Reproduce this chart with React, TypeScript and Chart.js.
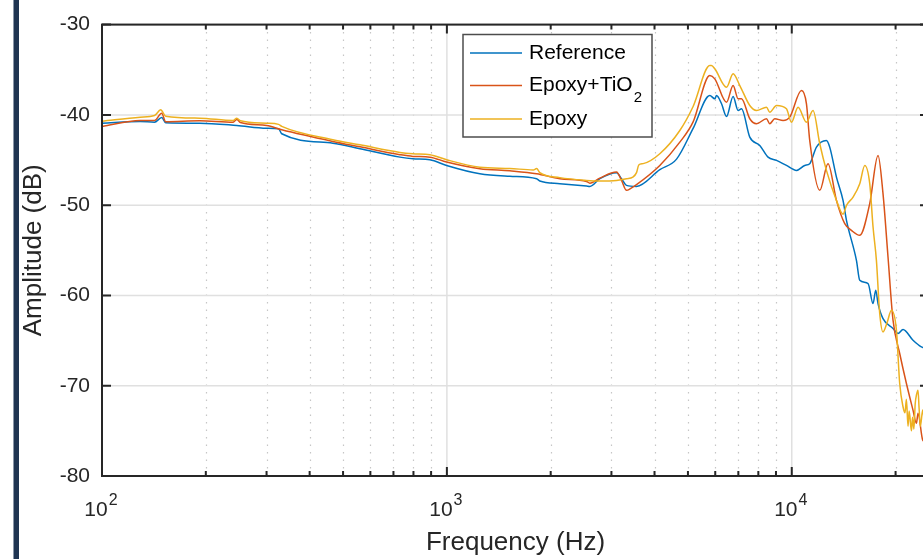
import React, { useEffect, useRef } from 'react';
import { Chart, registerables } from 'chart.js';

Chart.register(...registerables);

const FONT = "'Liberation Sans', Arial, Helvetica, sans-serif";
const AXIS_COLOR = '#262626';

// ---- Data ----
const refFreq = [100, 129, 142, 149, 153, 192, 246, 300, 325, 332, 467, 560, 731, 797, 893, 998, 1246, 1522, 1820, 1860, 2126, 2541, 2597, 2777, 3104, 3209, 3318, 3547, 4144, 4634, 5176, 5785, 5982, 6050, 6257, 6469, 6760, 6989, 7150, 7556, 8077, 8537, 9031, 9652, 10318, 10907, 11274, 11792, 12604, 12885, 13476, 14082, 14409, 15400, 15745, 16644, 17207, 17519, 17789, 18390, 19661, 20330, 21018, 22468, 23764, 25000];
const refAmp = [-40.92, -40.73, -40.81, -40.29, -40.87, -40.92, -41.17, -41.47, -41.54, -42.09, -43.13, -43.75, -44.68, -44.86, -44.97, -45.6, -46.52, -46.8, -47.07, -47.33, -47.62, -47.89, -47.92, -47.07, -46.4, -47.07, -47.81, -47.92, -46.07, -44.9, -41.5, -37.85, -38.22, -37.85, -38.77, -40.18, -37.96, -39.51, -39.33, -42.47, -43.38, -44.68, -45.04, -45.6, -46.15, -45.6, -45.41, -43.57, -42.83, -43.57, -46.89, -49.47, -51.68, -56.11, -58.32, -58.68, -60.9, -59.42, -60.9, -62.56, -63.66, -64.21, -63.77, -64.96, -65.7, -66.0];

const tioFreq = [100, 129, 142, 149, 153, 192, 240, 246, 252, 300, 332, 467, 560, 731, 797, 893, 998, 1246, 1522, 1820, 2126, 2541, 2597, 2777, 3104, 3209, 3318, 3414, 3547, 4144, 4736, 5176, 5785, 5982, 6469, 6760, 6989, 7150, 7556, 7902, 8447, 8634, 8926, 9437, 9867, 10668, 11031, 11274, 12055, 12739, 13476, 14244, 14894, 15745, 16831, 17789, 18390, 19015, 19661, 20559, 21501, 22468, 22983, 23233, 23972, 25000];
const tioAmp = [-41.28, -40.62, -40.62, -39.81, -40.75, -40.65, -40.81, -40.51, -40.85, -41.17, -41.65, -42.94, -43.54, -44.41, -44.6, -44.68, -45.23, -45.96, -46.2, -46.52, -47.07, -47.37, -47.56, -47.0, -46.34, -47.26, -48.36, -48.14, -47.73, -45.6, -43.02, -40.78, -35.64, -36.01, -38.6, -36.75, -38.22, -38.22, -40.43, -40.98, -40.43, -40.98, -40.43, -40.62, -40.25, -37.3, -38.77, -42.83, -48.36, -45.41, -49.47, -52.05, -52.79, -53.34, -49.83, -44.49, -48.73, -55.74, -62.74, -66.43, -69.75, -72.7, -74.17, -73.06, -76.02, -76.5];

const epoFreq = [100, 129, 142, 148, 153, 192, 240, 246, 252, 300, 325, 332, 467, 560, 731, 797, 893, 998, 1246, 1522, 1780, 1820, 1860, 2126, 2541, 2777, 3104, 3318, 3460, 3547, 3600, 3707, 4144, 4736, 5176, 5785, 5850, 5982, 6469, 6760, 7069, 7556, 7902, 8447, 8634, 9031, 9652, 9979, 10430, 11031, 11527, 12055, 12604, 13476, 14082, 14409, 15057, 15745, 16280, 16831, 17207, 17597, 17990, 18390, 18900, 19454, 20114, 20559, 21018, 21300, 21500, 21731, 21900, 22231, 22400, 22600, 22800, 23000, 23233, 23400, 23600, 23972, 24300, 25000];
const epoAmp = [-40.7, -40.25, -40.07, -39.44, -40.14, -40.36, -40.62, -40.36, -40.65, -40.92, -41.05, -41.28, -42.75, -43.32, -44.16, -44.3, -44.41, -44.97, -45.79, -45.93, -46.1, -45.95, -46.4, -46.95, -47.26, -47.33, -47.26, -47.07, -46.89, -46.4, -45.55, -45.4, -44.3, -41.73, -39.07, -34.54, -34.54, -34.9, -36.94, -35.45, -36.75, -38.96, -39.51, -39.15, -39.7, -38.96, -39.33, -40.81, -39.15, -40.81, -39.51, -43.2, -46.15, -49.47, -51.0, -50.02, -49.1, -47.62, -45.6, -47.62, -52.42, -56.11, -62.0, -64.04, -63.0, -61.64, -63.85, -69.75, -72.33, -73.0, -71.5, -74.5, -72.8, -75.0, -73.5, -74.8, -72.0, -71.0, -70.49, -72.5, -74.5, -72.7, -74.0, -73.5];

const seriesNames = ['Reference', 'Epoxy+TiO', 'Epoxy'];
const seriesSubscripts = ['', '2', ''];
const seriesColors = ['#0072BD', '#D95319', '#EDB120'];

const yTicks = [-30, -40, -50, -60, -70, -80];
const xMajorTicks = [100, 1000, 10000];
const xTickBase = ['10', '10', '10'];
const xTickExp = ['2', '3', '4'];
const xMinorMult = [2, 3, 4, 5, 6, 7, 8, 9];
const X_MIN = 100;
const X_MAX = 25000;
const Y_MIN = -80;
const Y_MAX = -30;

const toPoints = (f: number[], a: number[]) => f.map((v, i) => ({ x: v, y: a[i] }));

const matlabAxes = {
  id: 'matlabAxes',
  beforeDatasetsDraw(chart: any) {
    const { ctx, chartArea: a, scales } = chart;
    const xs = scales.x;
    const ys = scales.y;
    ctx.save();
    ctx.lineWidth = 1.2;
    ctx.strokeStyle = '#c6c6c6';
    ctx.setLineDash([1.5, 6]);
    for (const d of xMajorTicks) {
      for (const m of xMinorMult) {
        const f = d * m;
        if (f > X_MAX) continue;
        const px = Math.round(xs.getPixelForValue(f)) + 0.5;
        ctx.beginPath();
        ctx.moveTo(px, a.bottom);
        ctx.lineTo(px, a.top);
        ctx.stroke();
      }
    }
    ctx.setLineDash([]);
    ctx.strokeStyle = '#e0e0e0';
    ctx.lineWidth = 1.5;
    for (const f of xMajorTicks) {
      const px = xs.getPixelForValue(f);
      ctx.beginPath();
      ctx.moveTo(px, a.top);
      ctx.lineTo(px, a.bottom);
      ctx.stroke();
    }
    for (const v of yTicks) {
      const py = ys.getPixelForValue(v);
      ctx.beginPath();
      ctx.moveTo(a.left, py);
      ctx.lineTo(a.right, py);
      ctx.stroke();
    }
    ctx.restore();
  },
  afterDatasetsDraw(chart: any) {
    const { ctx, chartArea: a, scales } = chart;
    const xs = scales.x;
    const ys = scales.y;
    ctx.save();
    ctx.strokeStyle = AXIS_COLOR;
    ctx.lineWidth = 2;
    ctx.strokeRect(a.left, a.top, a.right - a.left, a.bottom - a.top);
    ctx.beginPath();
    for (const v of yTicks) {
      const py = ys.getPixelForValue(v);
      ctx.moveTo(a.left, py);
      ctx.lineTo(a.left + 9, py);
      ctx.moveTo(a.right, py);
      ctx.lineTo(a.right - 9, py);
    }
    for (const f of xMajorTicks) {
      const px = xs.getPixelForValue(f);
      ctx.moveTo(px, a.bottom);
      ctx.lineTo(px, a.bottom - 9);
      ctx.moveTo(px, a.top);
      ctx.lineTo(px, a.top + 9);
    }
    for (const d of xMajorTicks) {
      for (const m of xMinorMult) {
        const f = d * m;
        if (f > X_MAX) continue;
        const px = xs.getPixelForValue(f);
        ctx.moveTo(px, a.bottom);
        ctx.lineTo(px, a.bottom - 5);
        ctx.moveTo(px, a.top);
        ctx.lineTo(px, a.top + 5);
      }
    }
    ctx.stroke();

    // x tick labels with superscript exponents
    ctx.fillStyle = AXIS_COLOR;
    ctx.textBaseline = 'alphabetic';
    ctx.textAlign = 'left';
    xMajorTicks.forEach((f, i) => {
      const px = xs.getPixelForValue(f);
      ctx.font = `21px ${FONT}`;
      const wb = ctx.measureText(xTickBase[i]).width;
      ctx.font = `16px ${FONT}`;
      const we = ctx.measureText(xTickExp[i]).width;
      const start = px - 1 - (wb + we + 1) / 2;
      ctx.font = `21px ${FONT}`;
      ctx.fillText(xTickBase[i], start, a.bottom + 40);
      ctx.font = `16px ${FONT}`;
      ctx.fillText(xTickExp[i], start + wb + 1, a.bottom + 29);
    });

    // legend
    const bx = 463;
    const by = 34.5;
    const bw = 189;
    const bh = 102.5;
    ctx.fillStyle = '#ffffff';
    ctx.fillRect(bx, by, bw, bh);
    ctx.strokeStyle = '#4d4d4d';
    ctx.lineWidth = 1.5;
    ctx.strokeRect(bx, by, bw, bh);
    const rows = [53, 85.5, 119];
    seriesNames.forEach((name, i) => {
      const ry = rows[i];
      ctx.strokeStyle = seriesColors[i];
      ctx.lineWidth = 1.5;
      ctx.beginPath();
      ctx.moveTo(470, ry);
      ctx.lineTo(522, ry);
      ctx.stroke();
      ctx.fillStyle = '#000000';
      ctx.font = `21px ${FONT}`;
      ctx.textBaseline = 'middle';
      ctx.fillText(name, 529, ry);
      if (seriesSubscripts[i]) {
        const w = ctx.measureText(name).width;
        ctx.font = `15px ${FONT}`;
        ctx.fillText(seriesSubscripts[i], 529 + w + 1, ry + 12);
      }
    });
    ctx.restore();
  },
};

export default function App() {
  const ref = useRef<HTMLCanvasElement>(null);
  useEffect(() => {
    document.body.style.margin = '0';
    Chart.defaults.font.family = FONT;
    const chart = new Chart(ref.current as HTMLCanvasElement, {
      type: 'line',
      data: {
        datasets: [
          { label: seriesNames[0], data: toPoints(refFreq, refAmp), borderColor: seriesColors[0], order: 3 },
          { label: seriesNames[1] + seriesSubscripts[1], data: toPoints(tioFreq, tioAmp), borderColor: seriesColors[1], order: 2 },
          { label: seriesNames[2], data: toPoints(epoFreq, epoAmp), borderColor: seriesColors[2], order: 1 },
        ].map((d) => ({
          ...d,
          borderWidth: 1.5,
          pointRadius: 0,
          fill: false,
          cubicInterpolationMode: 'monotone' as const,
        })),
      },
      options: {
        animation: false,
        responsive: false,
        maintainAspectRatio: false,
        layout: { padding: { left: 8, right: 71, top: 24, bottom: 0 } },
        plugins: { legend: { display: false }, tooltip: { enabled: false } },
        scales: {
          x: {
            type: 'logarithmic',
            min: X_MIN,
            max: X_MAX,
            grid: { display: false, drawTicks: false },
            border: { display: false },
            ticks: { display: false },
            title: {
              display: true,
              text: 'Frequency (Hz)',
              color: AXIS_COLOR,
              font: { size: 26, family: FONT },
              padding: { top: 0, bottom: 1 },
            },
            afterFit: (s: any) => {
              s.height = 83;
            },
          },
          y: {
            type: 'linear',
            min: Y_MIN,
            max: Y_MAX,
            grid: { display: false, drawTicks: false },
            border: { display: false },
            ticks: { stepSize: 10, color: AXIS_COLOR, font: { size: 21, family: FONT }, padding: 12 },
            title: {
              display: true,
              text: 'Amplitude (dB)',
              color: AXIS_COLOR,
              font: { size: 26, family: FONT },
              padding: { top: 10, bottom: 0 },
            },
            afterFit: (s: any) => {
              s.width = 94;
            },
          },
        },
      },
      plugins: [matlabAxes],
    } as any);
    return () => chart.destroy();
  }, []);
  return (
    <div style={{ position: 'fixed', left: 0, top: 0, width: 923, height: 559, overflow: 'hidden', background: '#ffffff' }}>
      <canvas ref={ref} width={1000} height={559} style={{ position: 'absolute', left: 0, top: 0, width: 1000, height: 559 }} />
      <div style={{ position: 'absolute', left: 13, top: 0, width: 6, height: 559, background: '#1f3452', borderLeft: '1px solid #8a96a8', boxSizing: 'border-box' }} />
    </div>
  );
}
